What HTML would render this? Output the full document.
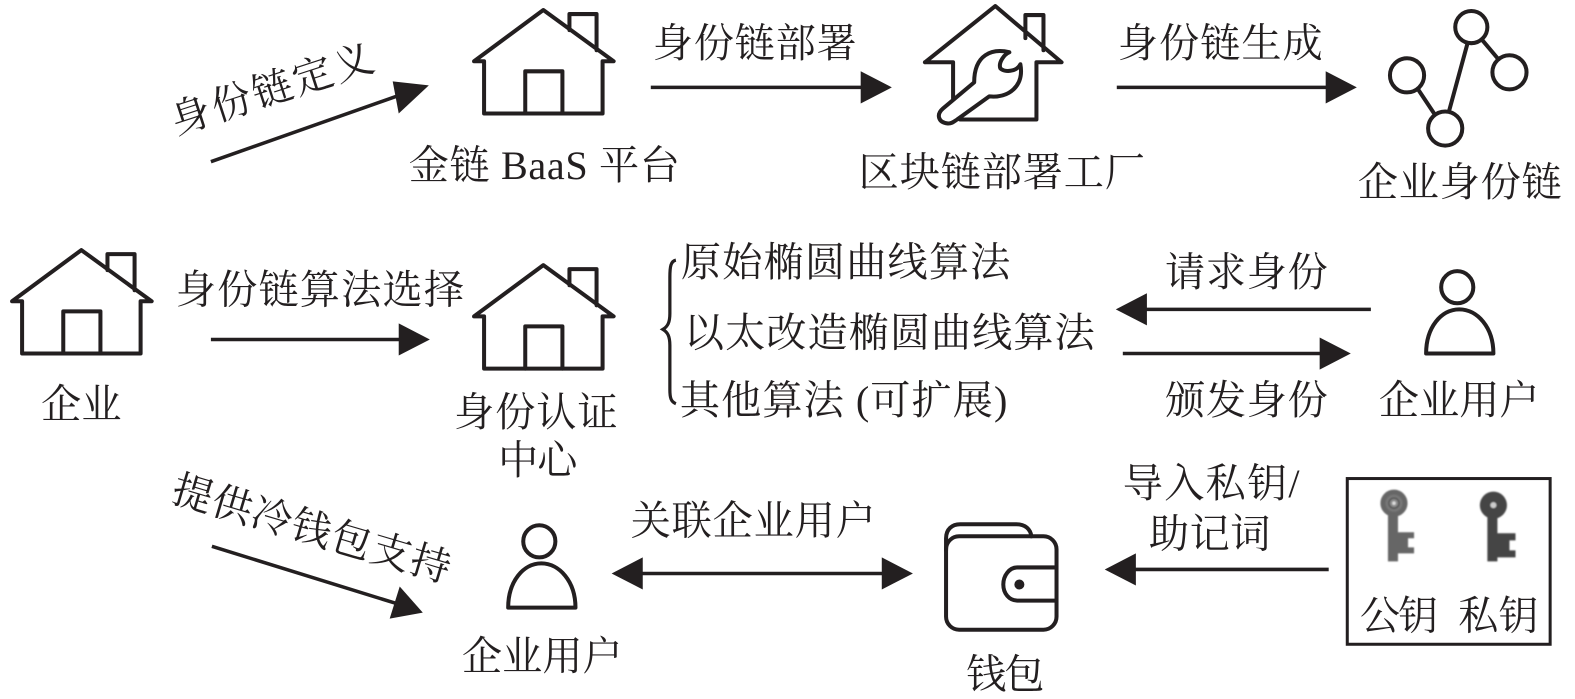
<!DOCTYPE html>
<html><head><meta charset="utf-8"><style>
html,body{margin:0;padding:0;background:#fff}
svg{display:block}
text{font-family:"Liberation Serif","Noto Serif CJK SC",serif;font-size:40px;fill:#231f20}
.s{fill:none;stroke:#231f20;stroke-width:4;stroke-linejoin:round;stroke-linecap:round}
.l{stroke:#231f20;stroke-width:3.5;fill:none}
.h{fill:#231f20;stroke:none}
</style></head><body>
<svg width="1575" height="699" viewBox="0 0 1568.25 696" xmlns="http://www.w3.org/2000/svg">
<defs>
<g id="house"><path class="s" d="M567 30V14H594V50M472 61L541 10L611 61H600V113H482V61Z"/><path class="s" d="M523 113V71H560V113"/></g>
<g id="person"><circle class="s" cx="0" cy="0" r="16"/><path class="s" d="M-31 66C-31 40 -16 22 2 22C20 22 36 40 36 66Z"/></g>
<filter id="b" x="-20%" y="-20%" width="140%" height="140%"><feGaussianBlur stdDeviation="0.7"/></filter>
</defs>

<use href="#house"/>
<use href="#house" y="254"/>
<use href="#house" x="-460" y="239"/>

<!-- tool house -->
<path class="s" d="M1021 38V15H1039V50M921 62L991 6L1057 62H1032V119H956M949 98V62H921"/>
<path class="s" d="M1005 52C988 48 970 54 970 82L939 108C932 114 934 122 944 123C948 123 950 121 953 119L985 96C1004 98 1020 86 1016 64C1012 72 1000 72 996 68C994 62 1000 54 1005 52Z" style="fill:#fff"/>

<!-- graph -->
<g class="s"><line x1="1412" y1="89" x2="1428" y2="113"/><line x1="1443" y1="110" x2="1461" y2="44"/><line x1="1476" y1="40" x2="1492" y2="59"/>
<circle cx="1401" cy="75" r="17"/><circle cx="1439" cy="128" r="17"/><circle cx="1465" cy="27" r="16"/><circle cx="1503" cy="72" r="17"/></g>

<use href="#person" x="1451" y="286"/>
<use href="#person" x="537" y="539"/>

<!-- wallet -->
<path class="s" d="M942 548V536C942 527 948 522 956 522H1012C1021 522 1026 527 1027 534"/>
<rect class="s" x="942" y="534" width="110" height="93" rx="13"/>
<path class="s" d="M1052 565H1013C1005 565 999 573 999 582C999 591 1005 598 1013 598H1052"/>
<circle class="h" cx="1015" cy="582" r="5"/>

<!-- keys -->
<rect x="1341.5" y="476.5" width="202" height="165" fill="none" stroke="#231f20" stroke-width="3"/>
<g filter="url(#b)"><circle cx="1388" cy="501" r="11" fill="#777" stroke="#666" stroke-width="5"/><circle cx="1388" cy="501" r="5" fill="#8a8a8a" stroke="#555" stroke-width="1.5"/><circle cx="1388" cy="501" r="1.8" fill="#ddd"/>
<path d="M1382 513H1392V530H1408V536H1402V545H1408V551H1392V559H1382Z" fill="#666"/></g>
<g filter="url(#b)"><circle cx="1487" cy="503" r="13.5" fill="#454545"/><circle cx="1487" cy="503" r="3" fill="#ccc"/>
<path d="M1481 513H1491V531H1509V538H1503V548H1509V555H1491V559H1481Z" fill="#454545"/></g>

<!-- brace -->
<path d="M673 259C668 260 667 265 667 276V312C667 321 665 325 660 328C665 331 667 335 667 344V388C667 396 668 400 673 402" fill="none" stroke="#231f20" stroke-width="3.2"/>

<!-- arrows -->
<line class="l" x1="210" y1="161" x2="400" y2="94"/><polygon class="h" points="427,85 397,113 391,81"/>
<line class="l" x1="648" y1="87" x2="860" y2="87"/><polygon class="h" points="888,87 857,71 857,103"/>
<line class="l" x1="1112" y1="87" x2="1325" y2="87"/><polygon class="h" points="1351,87 1320,71 1320,103"/>
<line class="l" x1="210" y1="338" x2="400" y2="338"/><polygon class="h" points="428,338 397,322 397,354"/>
<line class="l" x1="1365" y1="308" x2="1140" y2="308"/><polygon class="h" points="1111,308 1142,292 1142,324"/>
<line class="l" x1="1118" y1="352" x2="1318" y2="352"/><polygon class="h" points="1345,352 1314,336 1314,368"/>
<line class="l" x1="211" y1="544" x2="395" y2="601"/><polygon class="h" points="421,610 388,616 398,584"/>
<line class="l" x1="638" y1="571" x2="880" y2="571"/><polygon class="h" points="609,571 640,555 640,587"/><polygon class="h" points="909,571 878,555 878,587"/>
<line class="l" x1="1323" y1="567" x2="1128" y2="567"/><polygon class="h" points="1100,567 1131,551 1131,583"/>

<!-- labels -->
<text transform="translate(175.3,134.2) rotate(-18)" textLength="210">身份链定义</text>
<text transform="translate(168.9,498.8) rotate(16.5)" textLength="287">提供冷钱包支持</text>
<text x="407" y="178" textLength="270">金链 BaaS 平台</text>
<text x="650" y="57" textLength="203">身份链部署</text>
<text x="855" y="185" textLength="285">区块链部署工厂</text>
<text x="1113" y="57" textLength="204">身份链生成</text>
<text x="1352" y="195" textLength="203">企业身份链</text>
<text x="41" y="416" textLength="80">企业</text>
<text x="175" y="302" textLength="287">身份链算法选择</text>
<text x="678" y="275" textLength="328">原始椭圆曲线算法</text>
<text x="681" y="345" textLength="409">以太改造椭圆曲线算法</text>
<text x="677" y="412" textLength="326">其他算法 (可扩展)</text>
<text x="1160" y="285" textLength="162">请求身份</text>
<text x="1160" y="412" textLength="162">颁发身份</text>
<text x="1373" y="412" textLength="160">企业用户</text>
<text x="452" y="424" textLength="163">身份认证</text>
<text x="496" y="472" textLength="79">中心</text>
<text x="628" y="532" textLength="244">关联企业用户</text>
<text x="1118" y="495" textLength="176">导入私钥/</text>
<text x="1144" y="545" textLength="121">助记词</text>
<text x="1354" y="627" textLength="78">公钥</text>
<text x="1452" y="627" textLength="80">私钥</text>
<text x="460" y="667" textLength="160">企业用户</text>
<text x="962" y="685" textLength="78">钱包</text>
</svg>
</body></html>
